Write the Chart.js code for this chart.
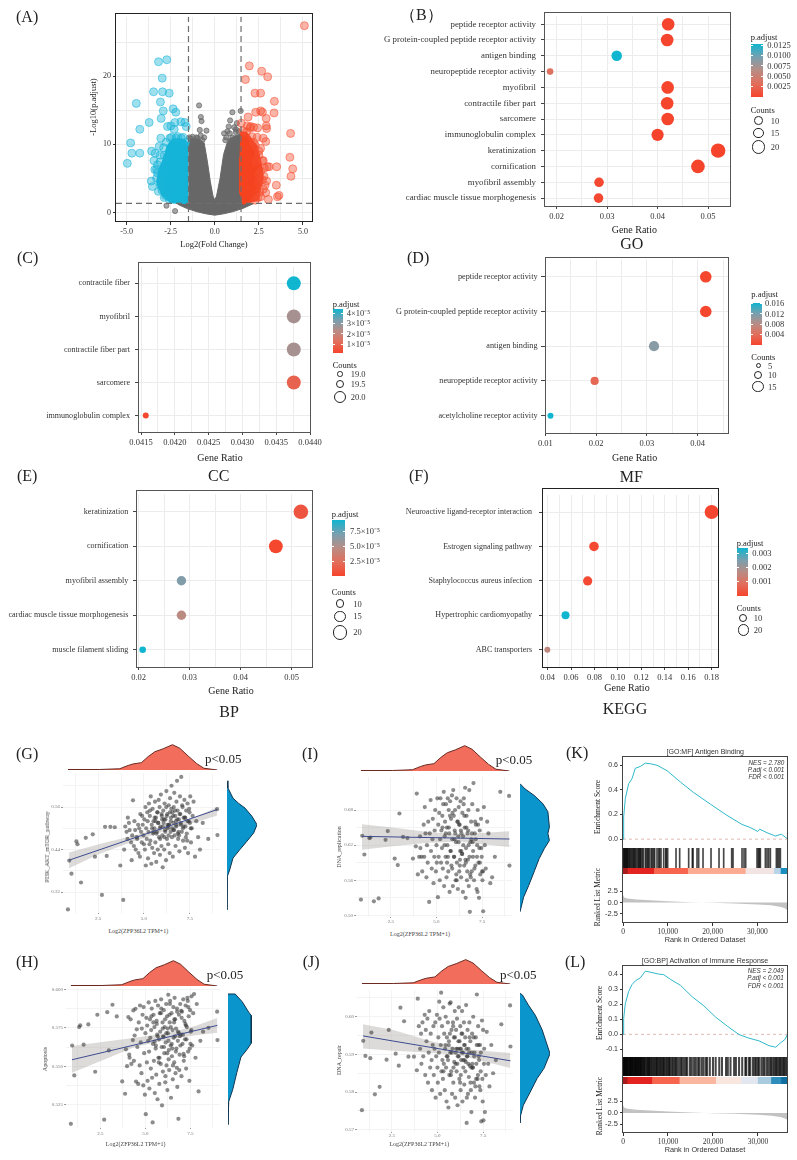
<!DOCTYPE html>
<html>
<head>
<meta charset="utf-8">
<title>Figure</title>
<script src="https://cdn.jsdelivr.net/npm/chart.js"></script>
<style>
    html, body { margin: 0; padding: 0; background: #fff; }
    #page { position: relative; width: 797px; height: 1160px; overflow: hidden; background: #fff; }
    #page canvas { position: absolute; }
    .txt { position: absolute; white-space: pre; line-height: 1; font-family: "Liberation Serif", serif; color: #222; }
    .box { position: absolute; box-sizing: border-box; }
</style>
</head>
<body>
<div id="page"></div>
<script>
// (A) Volcano data: outlined regions of the dense cloud
const greyRegionX = [-1.5, -1.2, -0.9, -0.6, -0.42, -0.25, -0.1, 0, 0.1, 0.3, 0.5, 0.7, 0.9, 1.2, 1.5, 1.5, 2.2, 1.6, 1, 0.5, 0, -0.5, -1, -1.6, -2.1, -1.5];
const greyRegionY = [10.5, 10.8, 10.8, 10.2, 7.5, 4.5, 2.4, 1.8, 2.4, 5, 8.5, 10.2, 10.9, 11.3, 11.5, 1.3, 1.3, 0.6, 0.1, -0.2, -0.4, -0.2, 0.1, 0.6, 1.2, 1.3];
const blueRegionX = [-1.5, -1.7, -2.0, -2.4, -2.7, -2.9, -3.2, -3.3, -3.0, -2.5, -1.5];
const blueRegionY = [10.2, 10.7, 10.8, 10.8, 9.8, 8, 6, 4.5, 2.5, 1.4, 1.3];
const redRegionX = [1.45, 1.8, 2.1, 2.4, 2.55, 2.7, 2.75, 2.6, 2.5, 1.6, 1.4, 1.4];
const redRegionY = [11.8, 11.8, 10.8, 9.8, 8.2, 6.5, 5, 3.7, 1.8, 1.2, 3, 8];

// (A) Volcano data: single genes
const blueGenesX = [-3.19, -2.72, -2.98, -3.47, -2.96, -2.58, -4.45, -3.08, -2.92, -2.36, -2.21, -3.04, -3.72, -4.25, -4.77, -4.7, -4.25, -4.96, -3.58, -3.06, -3.15, -3.38, -2.87, -3.45, -3.6, -3.53, -3.06, -3.25, -2.26, -2.49, -1.92, -1.7, -2.3, -1.62, -2.68, -2.87, -2.68, -2.9, -3.0, -2.75, -2.45, -2.1, -1.8, -3.3, -3.1, -2.9, -3.1, -3.25, -3.3, -3.4, -3.0, -2.8, -2.6, -2.9, -2.75, -2.55, -2.2, -1.9, -1.65, -3.1, -3.2];
const blueGenesY = [22.1, 22.4, 19.7, 17.7, 17.7, 17.5, 16, 16.2, 14.9, 15.2, 14.7, 13.8, 13.2, 12.2, 10.2, 8.7, 8.7, 7.2, 9, 10.9, 9.7, 8.7, 8.4, 7.6, 4.6, 3.8, 3.9, 5.8, 13.2, 12.7, 13.3, 13.2, 12.2, 12.6, 12.6, 2.2, 8, 6.5, 5, 3.2, 11, 11.1, 11, 6.3, 7.4, 9.5, 8.4, 7, 5, 6.3, 3.3, 2.5, 2, 5.5, 10.3, 10.9, 10.9, 10.9, 10.3, 4.3, 3.1];
const redGenesX = [5.08, 1.96, 2.66, 3, 1.74, 2.28, 2.6, 3.38, 2.32, 2.6, 2.7, 3.36, 1.89, 2.92, 2.92, 2.94, 2.43, 1.85, 2.04, 1.51, 4.3, 2.75, 2.89, 4.26, 4.42, 4.32, 3.51, 3.08, 2.98, 2.79, 2.94, 3.49, 3.64, 3.55, 2.89, 3.04, 2.6, 2.5, 2.75, 2.3, 2.55, 2.85, 2.45, 2.4, 2.2, 2.5, 2.7, 2.8, 2.6, 2.7, 2.5, 2.6, 2.3, 2.1, 1.8, 2.35, 2.5, 2.75, 1.6, 2.0, 2.2];
const redGenesY = [27.4, 21.5, 20.7, 19.9, 19.5, 17.5, 17.5, 16.3, 14.7, 14.9, 14.7, 14.6, 14, 13.8, 12.7, 12.3, 12.4, 12.7, 12.6, 13.1, 11.6, 10.9, 10.4, 8.1, 6.4, 5.3, 6.7, 6.7, 6.7, 5.3, 4.6, 4, 2.5, 2.3, 2.9, 1.9, 9.4, 8.4, 7.6, 9.8, 3, 4, 2.2, 11, 10.3, 9, 7.6, 6.5, 6, 4.8, 4.3, 2.3, 1.8, 11.1, 11.8, 7.5, 5.6, 3.4, 12, 12.4, 12.5];
const greyGenesX = [-0.89, -0.79, -0.75, 1, 1.47, 0.87, 1.25, -0.47, -0.85, 0.79, 0.72, 0.53, 1.19, -1.26, -0.98, -0.6, -2.74, -2.25, -1.2, 0.9, -1.35, -1.05, -0.8, -0.7, -1.45, 0.6, 0.85, 1, 1.2, 1.35, 0.65, 1.1];
const greyGenesY = [15.7, 14, 13.4, 14.7, 14.9, 13.5, 13.1, 12, 12.1, 12.6, 11.9, 11.6, 11.8, 11.1, 10.9, 11, 1, 0.2, 10.5, 10.5, 10.8, 11, 11.3, 10.6, 11, 10.6, 11.6, 11, 12.2, 11.9, 11, 12.5];
const volcanoXTicks = [-5, -2.5, 0, 2.5, 5];
const volcanoYTicks = [0, 10, 20];

// (B) GO dots
const bCategories = ['peptide receptor activity', 'G protein-coupled peptide receptor activity', 'antigen binding', 'neuropeptide receptor activity', 'myofibril', 'contractile fiber part', 'sarcomere', 'immunoglobulin complex', 'keratinization', 'cornification', 'myofibril assembly', 'cardiac muscle tissue morphogenesis'];
const bRatios = [0.0421, 0.0419, 0.0319, 0.0187, 0.0420, 0.0419, 0.0420, 0.0400, 0.0520, 0.0480, 0.0284, 0.0283];
const bCounts = [21, 21, 16, 9, 21, 21, 21, 20, 26, 24, 14, 14];
const bPadj = [0.0001, 0.0001, 0.0128, 0.0035, 0.00005, 0.00005, 0.00005, 0.00002, 0.00001, 0.00001, 0.0003, 0.0003];

// (C) CC dots
const cCategories = ['contractile fiber', 'myofibril', 'contractile fiber part', 'sarcomere', 'immunoglobulin complex'];
const cRatios = [0.04376, 0.04376, 0.04376, 0.04376, 0.04157];
const cCounts = [20, 20, 20, 20, 19];
const cPadj = [4.4e-5, 2.5e-5, 2.5e-5, 0.8e-5, 0.1e-5];

// (D) MF dots
const dCategories = ['peptide receptor activity', 'G protein-coupled peptide receptor activity', 'antigen binding', 'neuropeptide receptor activity', 'acetylcholine receptor activity'];
const dRatios = [0.0416, 0.0416, 0.0314, 0.0197, 0.0110];
const dCounts = [21, 21, 16, 10, 5];
const dPadj = [0.0002, 0.0002, 0.0115, 0.0035, 0.0168];

// (E) BP dots
const eCategories = ['keratinization', 'cornification', 'myofibril assembly', 'cardiac muscle tissue morphogenesis', 'muscle filament sliding'];
const eRatios = [0.0518, 0.0469, 0.0284, 0.0284, 0.0208];
const eCounts = [25, 23, 14, 14, 10];
const ePadj = [1e-5, 0.1e-5, 7e-5, 4.8e-5, 9.8e-5];

// (F) KEGG dots
const fCategories = ['Neuroactive ligand-receptor interaction', 'Estrogen signaling pathway', 'Staphylococcus aureus infection', 'Hypertrophic cardiomyopathy', 'ABC transporters'];
const fRatios = [0.18, 0.0796, 0.0742, 0.0553, 0.0398];
const fCounts = [29, 14, 13, 10, 6];
const fPadj = [0.00005, 0.0001, 0.0001, 0.0034, 0.0016];

// (G-J) Samples: expression is the same in all four scatters
const sampleX = [
    0.86, 0.93, 1.05, 1.32, 1.38, 1.57, 1.83, 2.21, 2.33, 2.71, 2.88, 2.97, 3.17, 3.41, 3.71, 3.87,
    3.92, 3.98, 4.05, 4.1, 4.12, 4.18, 4.22, 4.3, 4.33, 4.36,
    4.4, 4.45, 4.48, 4.52, 4.55, 4.6, 4.63, 4.68, 4.7, 4.74,
    4.78, 4.8, 4.84, 4.88, 4.9, 4.93, 4.97, 5.0, 5.02, 5.05,
    5.08, 5.1, 5.12, 5.15, 5.18, 5.2, 5.22, 5.25, 5.27, 5.3,
    5.32, 5.35, 5.37, 5.4, 5.42, 5.45, 5.47, 5.5, 5.52, 5.55,
    5.57, 5.6, 5.62, 5.65, 5.67, 5.7, 5.72, 5.75, 5.77, 5.8,
    5.82, 5.85, 5.87, 5.9, 5.92, 5.95, 5.97, 6.0, 6.02, 6.05,
    6.07, 6.1, 6.12, 6.15, 6.17, 6.2, 6.22, 6.25, 6.27, 6.3,
    6.32, 6.35, 6.37, 6.4, 6.42, 6.45, 6.47, 6.5, 6.52, 6.55,
    6.57, 6.6, 6.62, 6.65, 6.67, 6.7, 6.72, 6.75, 6.77, 6.8,
    6.83, 6.86, 6.9, 6.93, 6.96, 7.0, 7.03, 7.06, 7.1, 7.13,
    7.16, 7.2, 7.23, 7.26, 7.3, 7.33, 7.37, 7.4, 7.44, 7.48,
    7.52, 7.56, 7.6, 7.65, 7.7, 7.78, 7.85, 7.95, 8.05, 8.2,
    8.5, 8.98, 9.0,
    5.51, 5.63, 5.74, 5.86, 5.99, 6.11, 6.24, 6.36, 6.49, 6.61, 6.74, 6.85, 6.98, 7.12, 7.25, 7.35, 7.5, 5.33, 6.29, 6.91,
    5.44, 5.58, 5.68, 5.78, 5.88, 5.96, 6.03, 6.09, 6.16, 6.21, 6.28, 6.34, 6.41, 6.46, 6.53, 6.59, 6.64, 6.69, 6.76, 6.81, 6.88, 6.94, 7.01, 7.08, 7.15, 7.22, 7.28, 7.38, 7.46, 7.55
];
const gValues = [
    0.271, 0.409, 0.372, 0.463, 0.455, 0.347, 0.473, 0.483, 0.42, 0.312, 0.504, 0.422, 0.504, 0.503, 0.395, 0.298,
    0.44, 0.505, 0.49, 0.47, 0.53, 0.515, 0.495, 0.46, 0.41, 0.48,
    0.579, 0.45, 0.52, 0.495, 0.44, 0.475, 0.47, 0.51, 0.43, 0.5,
    0.42, 0.54, 0.49, 0.46, 0.535, 0.51, 0.48, 0.455, 0.525, 0.44,
    0.56, 0.395, 0.5, 0.47, 0.545, 0.52, 0.415, 0.49, 0.57, 0.455,
    0.535, 0.465, 0.59, 0.4, 0.51, 0.445, 0.555, 0.485, 0.52, 0.43,
    0.5, 0.575, 0.46, 0.53, 0.405, 0.49, 0.545, 0.44, 0.515, 0.58,
    0.475, 0.56, 0.425, 0.505, 0.595, 0.45, 0.535, 0.48, 0.39, 0.55,
    0.515, 0.44, 0.57, 0.495, 0.525, 0.41, 0.605, 0.47, 0.54, 0.5,
    0.455, 0.565, 0.51, 0.43, 0.585, 0.49, 0.53, 0.62, 0.475, 0.545,
    0.42, 0.515, 0.56, 0.6, 0.48, 0.535, 0.45, 0.505, 0.575, 0.634,
    0.55, 0.47, 0.525, 0.435, 0.59, 0.51, 0.645, 0.49, 0.56, 0.465,
    0.53, 0.58, 0.445, 0.505, 0.55, 0.485, 0.57, 0.43, 0.52, 0.545,
    0.59, 0.46, 0.5, 0.535, 0.575, 0.42, 0.52, 0.475, 0.44, 0.515,
    0.47, 0.554, 0.481,
    0.49, 0.52, 0.545, 0.5, 0.525, 0.475, 0.535, 0.51, 0.555, 0.495, 0.52, 0.485, 0.54, 0.5, 0.53, 0.465, 0.515, 0.55, 0.505, 0.48,
    0.5, 0.53, 0.485, 0.515, 0.47, 0.54, 0.505, 0.525, 0.49, 0.56, 0.51, 0.48, 0.545, 0.52, 0.5, 0.535, 0.495, 0.55, 0.51, 0.525, 0.49, 0.54, 0.515, 0.565, 0.505, 0.53, 0.475, 0.52, 0.555, 0.5
];
const iValues = [
    0.527, 0.636, 0.604, 0.632, 0.633, 0.524, 0.529, 0.629, 0.644, 0.597, 0.586, 0.674, 0.634, 0.632, 0.597, 0.618,
    0.708, 0.57, 0.6, 0.635, 0.615, 0.6, 0.575, 0.655, 0.6, 0.685,
    0.64, 0.565, 0.62, 0.59, 0.66, 0.523, 0.64, 0.697, 0.61, 0.58,
    0.63, 0.665, 0.555, 0.6, 0.645, 0.68, 0.575, 0.62, 0.59, 0.7,
    0.531, 0.655, 0.6, 0.675, 0.56, 0.63, 0.7, 0.59, 0.645, 0.615,
    0.67, 0.58, 0.69, 0.711, 0.55, 0.635, 0.66, 0.6, 0.69, 0.565,
    0.65, 0.62, 0.7, 0.575, 0.68, 0.64, 0.54, 0.695, 0.61, 0.665,
    0.585, 0.705, 0.63, 0.55, 0.714, 0.67, 0.6, 0.645, 0.68, 0.56,
    0.625, 0.7, 0.59, 0.66, 0.545, 0.635, 0.685, 0.575, 0.655, 0.61,
    0.695, 0.565, 0.64, 0.605, 0.675, 0.54, 0.62, 0.7, 0.585, 0.65,
    0.718, 0.53, 0.615, 0.67, 0.56, 0.64, 0.595, 0.68, 0.55, 0.714,
    0.506, 0.625, 0.66, 0.575, 0.69, 0.6, 0.726, 0.56, 0.64, 0.585,
    0.655, 0.545, 0.62, 0.68, 0.59, 0.53, 0.645, 0.57, 0.665, 0.6,
    0.56, 0.507, 0.685, 0.62, 0.58, 0.66, 0.64, 0.555, 0.565, 0.6,
    0.711, 0.704, 0.585,
    0.64, 0.6, 0.67, 0.58, 0.63, 0.56, 0.655, 0.61, 0.69, 0.59, 0.645, 0.57, 0.625, 0.66, 0.54, 0.615, 0.575, 0.65, 0.595, 0.63,
    0.62, 0.59, 0.65, 0.61, 0.675, 0.6, 0.64, 0.57, 0.66, 0.625, 0.585, 0.645, 0.605, 0.635, 0.67, 0.595, 0.65, 0.575, 0.62, 0.6, 0.565, 0.64, 0.61, 0.58, 0.63, 0.6, 0.655, 0.59, 0.615, 0.575
];
const hValues = [
    0.5125, 0.5635, 0.544, 0.5755, 0.5766, 0.564, 0.5772, 0.5464, 0.5835, 0.5152, 0.5852, 0.5603, 0.59, 0.5824, 0.5401, 0.5321,
    0.561, 0.55, 0.582, 0.5575, 0.5555, 0.5805, 0.5515, 0.567, 0.5863, 0.5535,
    0.57, 0.5874, 0.54, 0.574, 0.5625, 0.5385, 0.5785, 0.5505, 0.5895, 0.5655,
    0.5455, 0.5745, 0.5835, 0.5375, 0.5885, 0.5585, 0.5315, 0.5715, 0.5188, 0.5815,
    0.5525, 0.5765, 0.5405, 0.5665, 0.5915, 0.5595, 0.5355, 0.5805, 0.5685, 0.5485,
    0.5735, 0.5875, 0.5425, 0.5134, 0.5645, 0.5835, 0.5535, 0.5755, 0.5325, 0.5925,
    0.5615, 0.5445, 0.5795, 0.5705, 0.5285, 0.5895, 0.5555, 0.5675, 0.5385, 0.5845,
    0.5725, 0.5515, 0.5935, 0.5625, 0.5245, 0.5785, 0.5465, 0.5695, 0.5865, 0.5585,
    0.5755, 0.5395, 0.5655, 0.5905, 0.5505, 0.5825, 0.5345, 0.5715, 0.5965, 0.5605,
    0.5475, 0.5785, 0.5925, 0.5635, 0.5295, 0.5845, 0.5565, 0.5735, 0.5415, 0.5885,
    0.5685, 0.5525, 0.5945, 0.5805, 0.5455, 0.5745, 0.5615, 0.5875, 0.5365, 0.5665,
    0.5158, 0.5835, 0.5575, 0.5905, 0.5705, 0.5435, 0.5855, 0.5645, 0.5935, 0.5535,
    0.5795, 0.5675, 0.5895, 0.5485, 0.5755, 0.5945, 0.5595, 0.5825, 0.5405, 0.5865,
    0.5725, 0.5955, 0.5635, 0.5845, 0.597, 0.5555, 0.5905, 0.5336, 0.5665, 0.5725,
    0.575, 0.5855, 0.567,
    0.566, 0.5775, 0.5525, 0.5845, 0.569, 0.5435, 0.5745, 0.5905, 0.5615, 0.5805, 0.549, 0.5715, 0.586, 0.558, 0.5765, 0.5925, 0.5645, 0.5825, 0.5545, 0.5695,
    0.5785, 0.5635, 0.5695, 0.5555, 0.5875, 0.5745, 0.5625, 0.5805, 0.5715, 0.5585, 0.5665, 0.5835, 0.5755, 0.5645, 0.5505, 0.5785, 0.5695, 0.5595, 0.5855, 0.5725, 0.5475, 0.5635, 0.5815, 0.5705, 0.5565, 0.5775, 0.5675, 0.5885, 0.5615, 0.5735
];
const jValues = [
    0.5752, 0.5936, 0.5896, 0.589, 0.5958, 0.5794, 0.5814, 0.5886, 0.5965, 0.5902, 0.587, 0.6024, 0.5988, 0.5894, 0.5894, 0.5858,
    0.6048, 0.5975, 0.5915, 0.5955, 0.5875, 0.5985, 0.5895, 0.6005, 0.5845, 0.5965,
    0.5935, 0.5995, 0.5825, 0.5905, 0.6015, 0.5865, 0.5955, 0.5885, 0.5805, 0.5925,
    0.5975, 0.5845, 0.5915, 0.5985, 0.5785, 0.5895, 0.6005, 0.5865, 0.5825, 0.5945,
    0.5905, 0.604, 0.5995, 0.5795, 0.5925, 0.6064, 0.5855, 0.5975, 0.5885, 0.5835,
    0.6025, 0.5875, 0.5955, 0.5805, 0.5915, 0.6, 0.5865, 0.5775, 0.5945, 0.5895,
    0.5985, 0.5759, 0.5925, 0.5845, 0.6035, 0.5905, 0.6038, 0.5855, 0.5965, 0.5795,
    0.5915, 0.5985, 0.5825, 0.5945, 0.588, 0.6015, 0.5785, 0.5905, 0.5965, 0.5855,
    0.5995, 0.5765, 0.5895, 0.5935, 0.6025, 0.5835, 0.5915, 0.5975, 0.5805, 0.5885,
    0.5955, 0.6015, 0.5775, 0.5905, 0.5865, 0.5985, 0.582, 0.5925, 0.5945, 0.588,
    0.6031, 0.5718, 0.5895, 0.5965, 0.5795, 0.5915, 0.584, 0.5985, 0.587, 0.5935,
    0.5805, 0.5747, 0.5955, 0.5865, 0.6, 0.5825, 0.5905, 0.5785, 0.5945, 0.5875,
    0.6059, 0.5835, 0.5975, 0.5895, 0.5815, 0.5925, 0.5855, 0.5722, 0.599, 0.5775,
    0.5725, 0.5915, 0.5747, 0.5845, 0.596, 0.5875, 0.5815, 0.5925, 0.585, 0.5885,
    0.598, 0.603, 0.5921,
    0.5895, 0.5935, 0.5845, 0.5975, 0.5875, 0.5915, 0.5825, 0.5955, 0.5885, 0.5785, 0.5905, 0.5865, 0.5945, 0.5835, 0.5925, 0.5805, 0.5965, 0.5855, 0.5915, 0.5875,
    0.5925, 0.5885, 0.5955, 0.5905, 0.5865, 0.5945, 0.5915, 0.5875, 0.5895, 0.5935, 0.5845, 0.5905, 0.5885, 0.5925, 0.5855, 0.5915, 0.5895, 0.5875, 0.5945, 0.5825, 0.5905, 0.5865, 0.5895, 0.5815, 0.5925, 0.5845, 0.5885, 0.5905, 0.5835, 0.5875
];

// (G-J) Trend lines and confidence bands
const trendX = [0.92, 9.0];
const ciX = [0.92, 2.59, 4.41, 6.23, 7.68, 8.99];
const gTrend = [0.41, 0.553];
const gCiUpper = [0.432, 0.456, 0.479, 0.504, 0.529, 0.56];
const gCiLower = [0.387, 0.428, 0.463, 0.494, 0.515, 0.536];
const iTrend = [0.635, 0.6304];
const iCiUpper = [0.6555, 0.65, 0.643, 0.638, 0.641, 0.6435];
const iCiLower = [0.612, 0.618, 0.6236, 0.626, 0.621, 0.617];
const hTrend = [0.5542, 0.5766];
const hCiUpper = [0.5631, 0.5657, 0.5685, 0.5716, 0.5759, 0.5813];
const hCiLower = [0.5458, 0.5538, 0.5625, 0.5672, 0.57, 0.5718];
const jTrend = [0.5949, 0.5883];
const jCiUpper = [0.598, 0.5965, 0.5938, 0.5916, 0.5909, 0.5904];
const jCiLower = [0.5916, 0.591, 0.5905, 0.5898, 0.588, 0.5864];

// (G-J) Marginal densities
const topDensityX = [0.86, 2.59, 3.68, 4.14, 4.41, 4.86, 5.23, 5.59, 6.05, 6.55, 6.95, 7.41, 7.86, 8.26, 8.99];
const topDensityY = [0.02, 0.02, 0.05, 0.18, 0.24, 0.29, 0.53, 0.72, 0.84, 1, 0.86, 0.55, 0.26, 0.07, 0];
const gSideY = [0.634, 0.614, 0.585, 0.571, 0.557, 0.534, 0.51, 0.487, 0.463, 0.44, 0.416, 0.383, 0.364, 0.27];
const gSideD = [0, 0.03, 0.2, 0.38, 0.6, 0.83, 1, 0.89, 0.66, 0.43, 0.2, 0.09, 0.01, 0];
const iSideY = [0.725, 0.716, 0.705, 0.691, 0.677, 0.651, 0.64, 0.628, 0.614, 0.597, 0.577, 0.551, 0.531, 0.506];
const iSideD = [0, 0.17, 0.47, 0.76, 0.93, 0.98, 0.93, 0.98, 0.81, 0.64, 0.49, 0.29, 0.12, 0];
const hSideY = [0.597, 0.597, 0.592, 0.585, 0.583, 0.565, 0.561, 0.556, 0.546, 0.535, 0.527, 0.512];
const hSideD = [0, 0.3, 0.59, 0.87, 0.97, 0.97, 0.8, 0.54, 0.37, 0.2, 0.03, 0];
const jSideY = [0.6062, 0.6058, 0.6031, 0.6004, 0.5965, 0.5902, 0.5863, 0.5836, 0.58, 0.5765, 0.5738, 0.5718];
const jSideD = [0, 0.08, 0.28, 0.51, 0.74, 1, 0.8, 0.57, 0.34, 0.11, 0.02, 0];

const scatterXTicks = [2.5, 5, 7.5];
const gYTicks = [0.32, 0.44, 0.56];
const iYTicks = [0.50, 0.56, 0.62, 0.68];
const hYTicks = [0.525, 0.55, 0.575, 0.6];
const jYTicks = [0.57, 0.58, 0.59, 0.60];

// (K) GSEA Antigen Binding
const kRanks = [0, 150, 520, 1265, 2000, 2750, 3870, 4985, 6100, 7590, 9820, 12800, 15770, 19500, 23200, 26560, 28420, 30060, 30500, 32140, 34000, 35340, 36800];
const kScores = [0, 0.18, 0.33, 0.45, 0.49, 0.575, 0.59, 0.617, 0.612, 0.6, 0.556, 0.464, 0.378, 0.284, 0.193, 0.119, 0.094, 0.062, 0.081, 0.052, 0.025, 0.04, 0];
const kHits = [74, 223, 372, 520, 670, 818, 967, 1116, 1339, 1488, 1711, 1934, 2158, 2381, 2530, 2753, 2976, 3274, 3497, 3646, 3869, 4018, 4315, 4538, 4985, 5208, 5506, 5654, 5952, 6324, 6547, 6845, 7068, 7589, 7961, 8184, 8482, 9077, 9523, 9672, 9970, 11830, 12648, 14657, 15475, 15624, 16517, 16889, 17856, 19642, 21427, 22469, 24254, 24552, 26561, 27007, 27379, 29909, 30206, 30430, 30653, 31769, 32141, 32513, 32885, 34224, 34522, 34819, 35117];
const kStripWidths = [1000, 5850, 7580, 12870, 6330, 1490, 1780];
const kStripColors = ['#a81a1c', '#e2231f', '#f8654f', '#fbab92', '#f3e4e4', '#b7d4e9', '#1b8ec0'];

// (L) GSEA Activation of Immune Response
const lRanks = [0, 150, 520, 1260, 2000, 2750, 3860, 4980, 6460, 7950, 9060, 10550, 12780, 15380, 17980, 20580, 23180, 25780, 28010, 30240, 32470, 33950, 35070, 35960, 36650];
const lScores = [0, 0.104, 0.205, 0.285, 0.33, 0.355, 0.375, 0.42, 0.41, 0.4, 0.396, 0.365, 0.325, 0.249, 0.189, 0.114, 0.054, -0.002, -0.026, -0.044, -0.076, -0.086, -0.056, -0.036, 0.004];
const lHits = [50, 150, 300, 450, 600, 750, 900, 1050, 1200, 1400, 1550, 1700, 1850, 2000, 2150, 2300, 2500, 2650, 2800, 2950, 3100, 3300, 3450, 3600, 3800, 3950, 4100, 4300, 4500, 4700, 4900, 5200, 5400, 5600, 5800, 6000, 6300, 6500, 6800, 7000, 7300, 7500, 7700, 8000, 8300, 8500, 8800, 9000, 9200, 9500, 9800, 10100, 10300, 10500, 10900, 11200, 11500, 11800, 12100, 12500, 12900, 13200, 13600, 14000, 14300, 14900, 15300, 15800, 16200, 16700, 17000, 17500, 17900, 18400, 18700, 19300, 20000, 20600, 21400, 22000, 22900, 23300, 23900, 24700, 25100, 25800, 26500, 27200, 27400, 28000, 28300, 28900, 29300, 29600, 30000, 30300, 30800, 31200, 31500, 32000, 32400, 32800, 33000, 33400, 33700, 34000, 34300, 34600, 34900, 35200, 35500, 35800, 36100, 36400];
const lStripWidths = [900, 5500, 6100, 8100, 5570, 3720, 2970, 2230, 1590];
const lStripColors = ['#a81a1c', '#e2231f', '#f8654f', '#fbb69f', '#f8e6df', '#e3e7f0', '#a9cbe0', '#2d8ebb', '#0f6da0'];

// Ranked list metric, nearly the same in K and L
const metricRanks = [0, 300, 1000, 3000, 6000, 10000, 15000, 20000, 25000, 30000, 33000, 35000, 36000, 36500, 36800];
const metricValues = [1.6, 1.1, 0.9, 0.7, 0.5, 0.3, 0.08, -0.05, -0.2, -0.4, -0.6, -0.9, -1.2, -1.5, -2.0];
const rankTicks = [0, 10000, 20000, 30000];
const metricTicks = [-2.5, 0, 2.5];
const kScoreTicks = [0, 0.2, 0.4, 0.6];
const lScoreTicks = [-0.1, 0, 0.1, 0.2, 0.3, 0.4];

const page = document.getElementById('page');
const SERIF = '"Liberation Serif", serif';
const SANS = '"Liberation Sans", sans-serif';
const GRID = '#ececec';

// p.adjust colour ramp, red to teal through a warm grey
const rampStops = [
    [0, 246, 68, 44],
    [0.25, 226, 110, 92],
    [0.5, 185, 140, 132],
    [0.75, 120, 160, 175],
    [1, 16, 181, 208]
];

// Helper to put a piece of text on the page, y is the middle of the text
function label(str, x, y, opts = {}) {
    const el = document.createElement('div');
    el.className = 'txt';
    el.textContent = str;
    const ax = { l: '0', c: '-50%', r: '-100%' }[opts.anchor || 'l'];
    el.style.left = x + 'px';
    el.style.top = y + 'px';
    el.style.fontSize = (opts.size || 8.5) + 'px';
    if (opts.font) el.style.fontFamily = opts.font;
    if (opts.color) el.style.color = opts.color;
    if (opts.italic) el.style.fontStyle = 'italic';
    el.style.transform = `translate(${ax}, -50%)` + (opts.rotate ? ` rotate(${opts.rotate}deg)` : '');
    page.appendChild(el);
}

// Helper to draw a frame round a plot
function frame(rect, color, width) {
    const el = document.createElement('div');
    el.className = 'box';
    el.style.left = (rect.l - width / 2) + 'px';
    el.style.top = (rect.t - width / 2) + 'px';
    el.style.width = (rect.r - rect.l + width) + 'px';
    el.style.height = (rect.b - rect.t + width) + 'px';
    el.style.border = width + 'px solid ' + color;
    el.style.zIndex = 2;
    page.appendChild(el);
}

// Helper to make a chart whose plot area sits exactly on rect
function place(rect, margin, config) {
    const m = Object.assign({ l: 0, r: 0, t: 0, b: 0 }, margin);
    const canvas = document.createElement('canvas');
    canvas.width = Math.round(rect.r - rect.l + m.l + m.r);
    canvas.height = Math.round(rect.b - rect.t + m.t + m.b);
    canvas.style.left = (rect.l - m.l) + 'px';
    canvas.style.top = (rect.t - m.t) + 'px';
    page.appendChild(canvas);

    const options = config.options;
    options.responsive = false;
    options.animation = false;
    options.devicePixelRatio = 1;
    options.layout = { padding: { top: m.t, right: m.r, left: 0, bottom: 0 } };
    options.plugins = { legend: { display: false }, tooltip: { enabled: false } };
    options.scales.x.afterFit = s => { s.height = m.b; };
    options.scales.y.afterFit = s => { s.width = m.l; };
    return new Chart(canvas.getContext('2d'), config);
}

// Axis helper: majors carry a label and a tick mark, minors only a grid line
function numericAxis(min, max, majors, minors, digits, font, tickColor, gridColor) {
    const isMajor = v => majors.some(m => Math.abs(m - v) < 1e-9);
    const all = majors.concat(minors).sort((a, b) => a - b);
    return {
        type: 'linear', min, max, offset: false,
        border: { display: false },
        afterBuildTicks: s => { s.ticks = all.map(v => ({ value: v })); },
        grid: {
            color: gridColor,
            tickLength: 3,
            tickColor: ctx => (ctx.tick && isMajor(ctx.tick.value) ? tickColor : 'rgba(0,0,0,0)')
        },
        ticks: {
            autoSkip: false, maxRotation: 0, padding: 2, color: font.color, font: { family: font.family, size: font.size },
            callback: v => {
                if (!isMajor(v)) return '';
                return typeof digits === 'function' ? digits(v) : v.toFixed(digits);
            }
        }
    };
}

// p.adjust colour: red at the smallest value, teal at the top of the scale
function padjColor(p, top) {
    const t = Math.min(1, p / top);
    let k = 0;
    while (k < rampStops.length - 2 && t > rampStops[k + 1][0]) k++;
    const a = rampStops[k];
    const b = rampStops[k + 1];
    const f = (t - a[0]) / (b[0] - a[0]);
    const c = [1, 2, 3].map(i => Math.round(a[i] + (b[i] - a[i]) * f));
    return `rgb(${c[0]},${c[1]},${c[2]})`;
}

// Count to radius, area scaled like ggplot
function countRadius(count, cMin, cMax, rMin, rMax) {
    const t = (count - cMin) / (cMax - cMin);
    return Math.sqrt(rMin * rMin + t * (rMax * rMax - rMin * rMin));
}

// Dot plots of panels B to F
function dotPlot(rect, categories, ratios, counts, padj, cfg) {
    const xAxis = numericAxis(cfg.xMin, cfg.xMax, cfg.majors, cfg.minors, cfg.digits,
        { family: SERIF, size: 8.5, color: '#333' }, '#444', GRID);
    xAxis.grid.tickLength = 3;
    xAxis.ticks.padding = 3;
    place(rect, { l: cfg.left, r: 22, t: 6, b: 20 }, {
        type: 'bubble',
        data: {
            datasets: [{
                data: categories.map((c, i) => ({
                    x: ratios[i],
                    y: c,
                    r: countRadius(counts[i], cfg.cMin, cfg.cMax, cfg.rMin, cfg.rMax)
                })),
                backgroundColor: padj.map(p => padjColor(p, cfg.pTop)),
                borderWidth: 0,
                clip: false
            }]
        },
        options: {
            scales: {
                x: xAxis,
                y: {
                    type: 'category', labels: categories, offset: true,
                    border: { display: false },
                    grid: { color: GRID, tickLength: 4, tickColor: '#444', offset: false },
                    ticks: { autoSkip: false, padding: cfg.labelPad, color: '#333', font: { family: SERIF, size: cfg.labelSize } }
                }
            }
        }
    });
    frame(rect, cfg.frameColor || '#555', cfg.frameWidth || 1.4);
}

// Colour bar and size legend at the right of a dot plot
function dotLegend(cfg) {
    label('p.adjust', cfg.bar.l, cfg.titleY);
    const bar = document.createElement('div');
    bar.className = 'box';
    bar.style.left = cfg.bar.l + 'px';
    bar.style.top = cfg.bar.t + 'px';
    bar.style.width = (cfg.bar.r - cfg.bar.l) + 'px';
    bar.style.height = (cfg.bar.b - cfg.bar.t) + 'px';
    const stops = rampStops.map(s => `rgb(${s[1]},${s[2]},${s[3]}) ${100 - s[0] * 100}%`).reverse();
    bar.style.background = `linear-gradient(to bottom, ${stops.join(', ')})`;
    page.appendChild(bar);
    cfg.ticks.forEach(t => {
        label(t[0], cfg.tickX, t[1], { size: 8.5, color: '#333' });
        [cfg.bar.l, cfg.bar.r - 2].forEach(x => {
            const mark = document.createElement('div');
            mark.className = 'box';
            mark.style.cssText = `left:${x}px;top:${t[1] - 0.5}px;width:2px;height:1px;background:#fff`;
            page.appendChild(mark);
        });
    });
    label('Counts', cfg.bar.l, cfg.countY);
    cfg.circles.forEach(c => {
        const ring = document.createElement('div');
        ring.className = 'box';
        ring.style.cssText = `left:${cfg.cx - c[1]}px;top:${c[0] - c[1]}px;width:${2 * c[1]}px;height:${2 * c[1]}px;border:1px solid #222;border-radius:50%`;
        page.appendChild(ring);
        label(c[2], cfg.countX, c[0], { color: '#333' });
    });
}

// Scatter with trend line plus the two marginal densities (panels G to J)
function scatterPanel(rect, values, trend, ciUpper, ciLower, cfg) {
    const xMin = 0.59, xMax = 9.14;
    const font = { family: SERIF, size: 5, color: '#777' };
    const xAxis = numericAxis(xMin, xMax, scatterXTicks, [1.25, 3.75, 6.25, 8.75], 1, font, '#999', '#f3f3f3');
    const yAxis = numericAxis(cfg.yMin, cfg.yMax, cfg.yTicks, cfg.yMinor, cfg.digits, font, '#999', '#f3f3f3');
    xAxis.grid.tickLength = 1;
    yAxis.grid.tickLength = 2;
    yAxis.ticks.padding = 1;
    xAxis.ticks.padding = cfg.xPad;

    place(rect, { l: 24, r: 6, t: 4, b: 14 }, {
        type: 'scatter',
        data: {
            datasets: [
                {
                    data: trendX.map((x, i) => ({ x, y: trend[i] })),
                    showLine: true, borderColor: '#3c4b8f', borderWidth: 1, pointRadius: 0, order: 0
                },
                {
                    data: sampleX.map((x, i) => ({ x, y: values[i] })),
                    backgroundColor: 'rgba(50,50,50,0.56)', borderWidth: 0, pointRadius: 2.1, order: 1, clip: false
                },
                {
                    data: ciX.map((x, i) => ({ x, y: ciUpper[i] })),
                    showLine: true, borderWidth: 0, pointRadius: 0, fill: '+1',
                    backgroundColor: 'rgba(175,170,165,0.42)', order: 2
                },
                {
                    data: ciX.map((x, i) => ({ x, y: ciLower[i] })),
                    showLine: true, borderWidth: 0, pointRadius: 0, order: 3
                }
            ]
        },
        options: { scales: { x: xAxis, y: yAxis } }
    });

    // Density above the scatter
    place({ l: rect.l, r: rect.r, t: cfg.topT, b: cfg.topB }, {}, {
        type: 'scatter',
        data: {
            datasets: [{
                data: topDensityX.map((x, i) => ({ x, y: topDensityY[i] })),
                showLine: true, pointRadius: 0, borderColor: '#6a2a22', borderWidth: 1,
                backgroundColor: '#f26d5b', fill: 'origin', clip: false
            }]
        },
        options: { scales: { x: { type: 'linear', min: xMin, max: xMax, display: false }, y: { type: 'linear', min: 0, max: 1.067, display: false } } }
    });

    // Density at the right of the scatter
    place({ l: cfg.sideL, r: cfg.sideL + cfg.sideW, t: rect.t, b: rect.b }, {}, {
        type: 'scatter',
        data: {
            datasets: [{
                data: cfg.sideY.map((y, i) => ({ x: cfg.sideD[i], y })),
                showLine: true, pointRadius: 0, borderColor: '#10344f', borderWidth: 1,
                backgroundColor: '#0a96cc', fill: 'shape', clip: false
            }]
        },
        options: { scales: { x: { type: 'linear', min: 0, max: 1, display: false }, y: { type: 'linear', min: cfg.yMin, max: cfg.yMax, display: false } } }
    });
}

// GSEA panels: running score, hit barcode, colour strip, ranked metric
function gseaPanel(cfg) {
    const sans = { family: SANS, size: 7, color: '#333' };
    const rankMax = cfg.rankMax;

    const scoreAxis = numericAxis(cfg.es.min, cfg.es.max, cfg.es.ticks, [], 1, sans, '#333', 'rgba(0,0,0,0)');
    place({ l: cfg.l, r: cfg.r, t: cfg.es.t, b: cfg.es.b }, { l: 24, t: 4 }, {
        type: 'scatter',
        data: {
            datasets: [
                {
                    data: cfg.ranks.map((x, i) => ({ x, y: cfg.scores[i] })),
                    showLine: true, pointRadius: 0, borderColor: '#2fb9c9', borderWidth: 1, order: 0
                },
                {
                    data: [{ x: 0, y: 0 }, { x: rankMax, y: 0 }],
                    showLine: true, pointRadius: 0, borderColor: '#d9a8a2', borderWidth: 0.8, borderDash: [3, 3], order: 1
                }
            ]
        },
        options: { scales: { x: { type: 'linear', min: 0, max: rankMax, display: false }, y: scoreAxis } }
    });

    // Barcode of the gene set hits
    place({ l: cfg.l, r: cfg.r, t: cfg.hitsT, b: cfg.stripT }, {}, {
        type: 'bar',
        data: {
            datasets: [{
                data: cfg.hits.map(x => ({ x, y: 1 })),
                backgroundColor: 'rgba(0,0,0,0.72)',
                barThickness: cfg.hitWidth
            }]
        },
        options: { scales: { x: { type: 'linear', min: 0, max: rankMax, offset: false, display: false }, y: { type: 'linear', min: 0, max: 1, display: false } } }
    });

    // Colour strip of the ranked list
    place({ l: cfg.l, r: cfg.r, t: cfg.stripT, b: cfg.metric.t }, {}, {
        type: 'bar',
        data: {
            labels: ['strip'],
            datasets: cfg.stripWidths.map((w, i) => ({
                data: [w], backgroundColor: cfg.stripColors[i], barPercentage: 1, categoryPercentage: 1
            }))
        },
        options: {
            indexAxis: 'y',
            scales: {
                x: { type: 'linear', stacked: true, min: 0, max: rankMax, display: false },
                y: { type: 'category', stacked: true, display: false }
            }
        }
    });

    // Ranked list metric
    const rankAxis = numericAxis(0, rankMax, rankTicks, [], v => v.toLocaleString('en-US'),
        { family: SERIF, size: 7.5, color: '#333' }, '#333', 'rgba(0,0,0,0)');
    const metricAxis = numericAxis(cfg.metric.min, cfg.metric.max, metricTicks, [], 1,
        { family: SANS, size: 7.5, color: '#333' }, '#333', 'rgba(0,0,0,0)');
    place({ l: cfg.l, r: cfg.r, t: cfg.metric.t, b: cfg.metric.b }, { l: 24, r: 14, b: 14 }, {
        type: 'scatter',
        data: {
            datasets: [{
                data: metricRanks.map((x, i) => ({ x, y: metricValues[i] })),
                showLine: true, pointRadius: 0, borderWidth: 0, backgroundColor: '#c2c2c2', fill: 'origin'
            }]
        },
        options: { scales: { x: rankAxis, y: metricAxis } }
    });

    frame({ l: cfg.l, r: cfg.r, t: cfg.es.t, b: cfg.metric.b }, '#444', 1);
}

// Panel A: volcano plot
function polygon(xs, ys, color, order) {
    return {
        data: xs.map((x, i) => ({ x, y: ys[i] })),
        showLine: true, pointRadius: 0, borderColor: color, borderWidth: 1, backgroundColor: color, fill: 'shape', order
    };
}
function genes(xs, ys, fill, border, radius, order) {
    return {
        data: xs.map((x, i) => ({ x, y: ys[i] })),
        backgroundColor: fill, borderColor: border, borderWidth: 1, pointRadius: radius, order, clip: false
    };
}
function guide(points) {
    return {
        data: points, showLine: true, pointRadius: 0, borderColor: '#6e6e6e', borderWidth: 1.2, borderDash: [6, 4], order: 0
    };
}
const volcanoRect = { l: 115.5, r: 312.7, t: 13.5, b: 221.7 };
const volcanoX = numericAxis(-5.6, 5.57, volcanoXTicks, [-3.75, -1.25, 1.25, 3.75], 1, { family: SERIF, size: 8, color: '#333' }, '#333', GRID);
const volcanoY = numericAxis(-1.4, 28.7, volcanoYTicks, [5, 15, 25], 0, { family: SERIF, size: 8, color: '#333' }, '#333', GRID);
place(volcanoRect, { l: 30, r: 12, t: 4, b: 18 }, {
    type: 'scatter',
    data: {
        datasets: [
            guide([{ x: -1.49, y: -1.4 }, { x: -1.49, y: 28.7 }]),
            guide([{ x: 1.49, y: -1.4 }, { x: 1.49, y: 28.7 }]),
            guide([{ x: -5.6, y: 1.34 }, { x: 5.57, y: 1.34 }]),
            genes(blueGenesX, blueGenesY, 'rgba(26,180,216,0.42)', 'rgba(26,180,216,0.55)', 4, 1),
            genes(redGenesX, redGenesY, 'rgba(245,78,48,0.42)', 'rgba(245,78,48,0.55)', 4, 1),
            polygon(blueRegionX, blueRegionY, '#14b4d8', 2),
            polygon(redRegionX, redRegionY, '#f5431f', 2),
            genes(greyGenesX, greyGenesY, 'rgba(105,105,105,0.6)', 'rgba(105,105,105,0.7)', 2.6, 3),
            polygon(greyRegionX, greyRegionY, '#676767', 4)
        ]
    },
    options: { scales: { x: volcanoX, y: volcanoY } }
});
frame(volcanoRect, '#222', 1.5);
label('-Log10(p.adjust)', 92.7, 107.3, { anchor: 'c', rotate: -90 });
label('Log2(Fold Change)', 214, 244, { anchor: 'c' });

// Panels B to F
dotPlot({ l: 545, r: 730.3, t: 12.3, b: 206.3 }, bCategories, bRatios, bCounts, bPadj, {
    xMin: 0.01769, xMax: 0.05435, majors: [0.02, 0.03, 0.04, 0.05], minors: [0.025, 0.035, 0.045], digits: 2,
    cMin: 9, cMax: 26, rMin: 3.3, rMax: 7.2, pTop: 0.0128, left: 165, labelSize: 8.8, labelPad: 5
});
dotLegend({
    bar: { l: 750.7, r: 763.3, t: 44.3, b: 96.7 }, titleY: 36.7, tickX: 767.3,
    ticks: [['0.0125', 45], ['0.0100', 55.3], ['0.0075', 65.7], ['0.0050', 76], ['0.0025', 86]],
    countY: 110, cx: 758.7, countX: 770.7,
    circles: [[120.7, 4.3, '10'], [133, 5.3, '15'], [147, 6.7, '20']]
});
label('Gene Ratio', 634.3, 230.3, { anchor: 'c', size: 10 });
label('GO', 631.7, 244, { anchor: 'c', size: 16 });

dotPlot({ l: 138.7, r: 310, t: 263, b: 432.3 }, cCategories, cRatios, cCounts, cPadj, {
    xMin: 0.04147, xMax: 0.0440, majors: [0.0415, 0.042, 0.0425, 0.043, 0.0435, 0.044], minors: [0.04175, 0.04225, 0.04275, 0.04325, 0.04375], digits: 4,
    cMin: 19, cMax: 20, rMin: 3, rMax: 7, pTop: 4.4e-5, left: 100, labelSize: 8.1, labelPad: 5
});
dotLegend({
    bar: { l: 332.7, r: 343.3, t: 309.3, b: 353.3 }, titleY: 304.3, tickX: 346.7,
    ticks: [['4×10⁻⁵', 313], ['3×10⁻⁵', 323.3], ['2×10⁻⁵', 333.7], ['1×10⁻⁵', 344.3]],
    countY: 364.7, cx: 340, countX: 350.7,
    circles: [[374, 2.7, '19.0'], [384, 4.3, '19.5'], [396.7, 6, '20.0']]
});
label('Gene Ratio', 220, 458.3, { anchor: 'c', size: 10 });
label('CC', 218.7, 475.7, { anchor: 'c', size: 16 });

dotPlot({ l: 545.3, r: 728.7, t: 257.3, b: 433.3 }, dCategories, dRatios, dCounts, dPadj, {
    xMin: 0.00992, xMax: 0.04598, majors: [0.01, 0.02, 0.03, 0.04], minors: [0.015, 0.025, 0.035, 0.045], digits: 2,
    cMin: 5, cMax: 21, rMin: 3, rMax: 5.8, pTop: 0.0168, left: 165, labelSize: 8.2, labelPad: 3.5
});
dotLegend({
    bar: { l: 751.3, r: 761.7, t: 302.7, b: 345.3 }, titleY: 294, tickX: 765,
    ticks: [['0.016', 303.3], ['0.012', 313.7], ['0.008', 324], ['0.004', 334.3]],
    countY: 356.7, cx: 758, countX: 768,
    circles: [[365.7, 2.5, '5'], [375, 4.2, '10'], [386.7, 5.7, '15']]
});
label('Gene Ratio', 634.7, 458.3, { anchor: 'c', size: 10 });
label('MF', 631.3, 476.7, { anchor: 'c', size: 16 });

dotPlot({ l: 136.7, r: 312.3, t: 490.7, b: 667 }, eCategories, eRatios, eCounts, ePadj, {
    xMin: 0.01969, xMax: 0.05418, majors: [0.02, 0.03, 0.04, 0.05], minors: [0.025, 0.035, 0.045], digits: 2,
    cMin: 10, cMax: 25, rMin: 3.3, rMax: 7.3, pTop: 9.8e-5, left: 132, labelSize: 8.1, labelPad: 4.7
});
dotLegend({
    bar: { l: 331.7, r: 345, t: 520, b: 576.3 }, titleY: 514.3, tickX: 350,
    ticks: [['7.5×10⁻⁵', 531.3], ['5.0×10⁻⁵', 546.3], ['2.5×10⁻⁵', 561.3]],
    countY: 592.3, cx: 340, countX: 353.3,
    circles: [[603.7, 4.3, '10'], [616.3, 5.7, '15'], [632.3, 7.3, '20']]
});
label('Gene Ratio', 231, 690.7, { anchor: 'c', size: 10 });
label('BP', 229, 711.7, { anchor: 'c', size: 16 });

dotPlot({ l: 542.7, r: 718.7, t: 488.7, b: 667 }, fCategories, fRatios, fCounts, fPadj, {
    xMin: 0.03607, xMax: 0.1863, majors: [0.04, 0.06, 0.08, 0.1, 0.12, 0.14, 0.16, 0.18], minors: [0.05, 0.07, 0.09, 0.11, 0.13, 0.15, 0.17], digits: 2,
    cMin: 6, cMax: 29, rMin: 3, rMax: 7, pTop: 0.0034, left: 150, frameColor: '#222', labelSize: 8, labelPad: 7
});
dotLegend({
    bar: { l: 736.7, r: 748.3, t: 548.3, b: 595.7 }, titleY: 543.3, tickX: 752.3,
    ticks: [['0.003', 553.3], ['0.002', 567.3], ['0.001', 581.3]],
    countY: 608.3, cx: 743.3, countX: 753.7,
    circles: [[618.3, 4, '10'], [630, 5.7, '20']]
});
label('Gene Ratio', 627, 688, { anchor: 'c', size: 10 });
label('KEGG', 625, 709, { anchor: 'c', size: 16 });

// Panels G to J
scatterPanel({ l: 63, r: 220, t: 773, b: 913 }, gValues, gTrend, gCiUpper, gCiLower, {
    yMin: 0.261, yMax: 0.656, yTicks: gYTicks, yMinor: [0.38, 0.5, 0.62], digits: 2, xPad: 2,
    topT: 743, topB: 770, sideL: 227.3, sideW: 29.5, sideY: gSideY, sideD: gSideD
});
label('PI3K_AKT_mTOR_pathway', 46.7, 847, { anchor: 'c', rotate: -90, size: 6, color: '#444' });
label('Log2(ZFP36L2 TPM+1)', 138.3, 930.7, { anchor: 'c', size: 6, color: '#444' });
label('p<0.05', 205, 758.3, { size: 13 });

scatterPanel({ l: 356, r: 512.3, t: 776.7, b: 916.7 }, iValues, iTrend, iCiUpper, iCiLower, {
    yMin: 0.4972, yMax: 0.7364, yTicks: iYTicks, yMinor: [0.53, 0.59, 0.65], digits: 2, xPad: 1,
    topT: 744, topB: 770.7, sideL: 520, sideW: 30, sideY: iSideY, sideD: iSideD
});
label('DNA_replication', 339.3, 847, { anchor: 'c', rotate: -90, size: 6, color: '#444' });
label('Log2(ZFP36L2 TPM+1)', 420, 934.3, { anchor: 'c', size: 6, color: '#444' });
label('p<0.05', 495.7, 759.3, { size: 13 });

scatterPanel({ l: 66, r: 219.9, t: 987.7, b: 1127.7 }, hValues, hTrend, hCiUpper, hCiLower, {
    yMin: 0.5098, yMax: 0.6009, yTicks: hYTicks, yMinor: [0.5375, 0.5625, 0.5875], digits: 3, xPad: 2,
    topT: 958.5, topB: 985, sideL: 228, sideW: 24, sideY: hSideY, sideD: hSideD
});
label('Apoptosis', 45, 1059, { anchor: 'c', rotate: -90, size: 6, color: '#444' });
label('Log2(ZFP36L2 TPM+1)', 135.7, 1144.3, { anchor: 'c', size: 6, color: '#444' });
label('p<0.05', 206.7, 974, { size: 13 });

scatterPanel({ l: 356.9, r: 512.5, t: 990, b: 1131.7 }, jValues, jTrend, jCiUpper, jCiLower, {
    yMin: 0.5694, yMax: 0.6071, yTicks: jYTicks, yMinor: [0.575, 0.585, 0.595, 0.605], digits: 2, xPad: 0,
    topT: 958, topB: 984.3, sideL: 520, sideW: 29.5, sideY: jSideY, sideD: jSideD
});
label('DNA_repair', 339.3, 1060, { anchor: 'c', rotate: -90, size: 6, color: '#444' });
label('Log2(ZFP36L2 TPM+1)', 419.3, 1144.3, { anchor: 'c', size: 6, color: '#444' });
label('p<0.05', 500, 974.3, { size: 13 });

// Panels K and L
gseaPanel({
    l: 622.7, r: 788, rankMax: 36822,
    es: { t: 756.7, b: 848.3, min: -0.03, max: 0.649, ticks: kScoreTicks },
    hitsT: 848.3, stripT: 868.3,
    metric: { t: 874, b: 922.7, min: -4.5, max: 4.87 },
    ranks: kRanks, scores: kScores, hits: kHits, hitWidth: 1,
    stripWidths: kStripWidths, stripColors: kStripColors
});
label('[GO:MF] Antigen Binding', 705.3, 751.3, { anchor: 'c', size: 7, font: SANS, color: '#333' });
label('NES = 2.780', 784.3, 762.7, { anchor: 'r', size: 6.3, font: SANS, italic: true, color: '#333' });
label('P.adj < 0.001', 784.3, 770, { anchor: 'r', size: 6.3, font: SANS, italic: true, color: '#333' });
label('FDR < 0.001', 784.3, 777.3, { anchor: 'r', size: 6.3, font: SANS, italic: true, color: '#333' });
label('Enrichment Score', 597.7, 807.3, { anchor: 'c', rotate: -90, size: 7.5 });
label('Ranked List Metric', 597.7, 897, { anchor: 'c', rotate: -90, size: 7.5 });
label('Rank in Ordered Dataset', 705, 939.7, { anchor: 'c', size: 7.3, font: SANS, color: '#333' });

gseaPanel({
    l: 622.7, r: 787.3, rankMax: 36680,
    es: { t: 965, b: 1057.3, min: -0.11, max: 0.4458, ticks: lScoreTicks },
    hitsT: 1057.3, stripT: 1076.7,
    metric: { t: 1083.7, b: 1132.3, min: -4.38, max: 4.88 },
    ranks: lRanks, scores: lScores, hits: lHits, hitWidth: 1.4,
    stripWidths: lStripWidths, stripColors: lStripColors
});
label('[GO:BP] Activation of Immune Response', 705, 959.7, { anchor: 'c', size: 7, font: SANS, color: '#333' });
label('NES = 2.049', 783.7, 971, { anchor: 'r', size: 6.3, font: SANS, italic: true, color: '#333' });
label('P.adj < 0.001', 783.7, 978.3, { anchor: 'r', size: 6.3, font: SANS, italic: true, color: '#333' });
label('FDR < 0.001', 783.7, 985.7, { anchor: 'r', size: 6.3, font: SANS, italic: true, color: '#333' });
label('Enrichment Score', 600, 1013.3, { anchor: 'c', rotate: -90, size: 7.5 });
label('Ranked List Metric', 600, 1106.3, { anchor: 'c', rotate: -90, size: 7.5 });
label('Rank in Ordered Dataset', 705, 1150, { anchor: 'c', size: 7.3, font: SANS, color: '#333' });

// Panel letters
[['(A)', 16, 17], ['（B）', 400, 15], ['(C)', 17, 257.7], ['(D)', 407, 258], ['(E)', 17, 475.7], ['(F)', 409, 475.7],
 ['(G)', 16, 754], ['(I)', 302, 754], ['(K)', 566, 753], ['(H)', 16, 962], ['(J)', 302.7, 962], ['(L)', 565, 962]].forEach(p => {
    label(p[0], p[1], p[2], { size: 16 });
});
</script>
</body>
</html>
